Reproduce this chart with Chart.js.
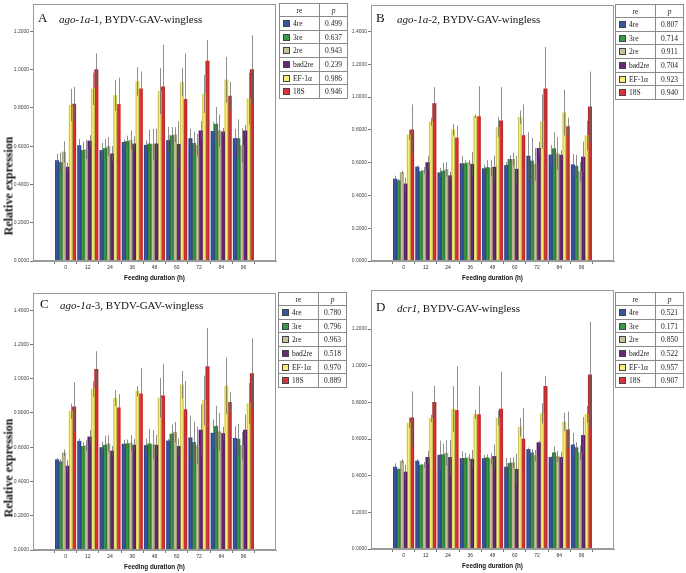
<!DOCTYPE html>
<html>
<head>
<meta charset="utf-8">
<script src="https://cdn.jsdelivr.net/npm/chart.js@4.4.1/dist/chart.umd.min.js"></script>
<style>
  html, body { margin: 0; padding: 0; background: #fff; }
  body { width: 686px; height: 573px; position: relative; overflow: hidden; }
  canvas { position: absolute; }
  .ptitle { position: absolute; font-family: 'Liberation Serif', serif; color: #111; white-space: nowrap; line-height: 14px; will-change: transform; }
  .ptitle .letter { font-size: 13px; position: absolute; left: 0; top: 0; }
  .ptitle .txt { font-size: 11px; position: absolute; top: 1px; }
  .ytitle { position: absolute; font-family: 'Liberation Serif', serif; font-weight: bold; font-size: 12px; color: #111;
            white-space: nowrap; transform: translate(-50%, -50%) rotate(-90deg); }
  table.leg { position: absolute; border-collapse: collapse; font-family: 'Liberation Serif', serif; font-size: 7.5px; color: #222; will-change: transform; }
  table.leg td { border: 1px solid #8a8a8a; padding: 0; }
  table.leg td.c1 { text-align: left; padding-left: 3px; }
  table.leg td.c2 { text-align: center; }
  table.leg td.h { text-align: center; }
  .sw { display: inline-block; width: 5px; height: 5px; border: 1px solid #444; vertical-align: -1px; margin-right: 3px; }
</style>
</head>
<body>
<script>
// ---------- data ----------
const hours = [0, 12, 24, 36, 48, 60, 72, 84, 96];
const seriesNames = ['4re', '3re', '2re', 'bad2re', 'EF-1\u03b1', '18S'];

// Panel A: ago-1a-1
const A_4re    = [0.525, 0.603, 0.578, 0.620, 0.605, 0.630, 0.640, 0.677, 0.640];
const A_3re    = [0.515, 0.578, 0.588, 0.625, 0.612, 0.655, 0.615, 0.715, 0.640];
const A_2re    = [0.570, 0.583, 0.598, 0.632, 0.610, 0.660, 0.605, 0.680, 0.603];
const A_bad2re = [0.490, 0.627, 0.560, 0.612, 0.612, 0.610, 0.680, 0.675, 0.680];
const A_EF     = [0.815, 0.900, 0.865, 0.938, 0.888, 0.935, 0.873, 0.947, 0.848];
const A_18S    = [0.820, 1.000, 0.818, 0.900, 0.910, 0.845, 1.045, 0.862, 1.000];
const A_4re_err    = [0.035, 0.035, 0.040, 0.015, 0.025, 0.070, 0.050, 0.050, 0.050];
const A_3re_err    = [0.050, 0.045, 0.050, 0.030, 0.075, 0.045, 0.060, 0.090, 0.100];
const A_2re_err    = [0.055, 0.050, 0.050, 0.050, 0.080, 0.040, 0.060, 0.085, 0.090];
const A_bad2re_err = [0.025, 0.030, 0.040, 0.040, 0.080, 0.120, 0.050, 0.020, 0.030];
const A_EF_err     = [0.085, 0.085, 0.080, 0.075, 0.120, 0.075, 0.100, 0.120, 0.135];
const A_18S_err    = [0.090, 0.085, 0.140, 0.090, 0.220, 0.240, 0.110, 0.075, 0.180];
const A_p = ['0.499', '0.637', '0.943', '0.239', '0.986', '0.946'];
const A_yTicks = [0, 0.2, 0.4, 0.6, 0.8, 1.0, 1.2];

// Panel B: ago-1a-2
const B_4re    = [0.500, 0.573, 0.538, 0.594, 0.563, 0.583, 0.640, 0.647, 0.587];
const B_3re    = [0.490, 0.545, 0.548, 0.594, 0.570, 0.620, 0.610, 0.685, 0.578];
const B_2re    = [0.540, 0.553, 0.558, 0.600, 0.567, 0.620, 0.590, 0.655, 0.545];
const B_bad2re = [0.470, 0.600, 0.520, 0.590, 0.572, 0.560, 0.687, 0.645, 0.634];
const B_EF     = [0.770, 0.850, 0.800, 0.883, 0.817, 0.877, 0.850, 0.905, 0.765];
const B_18S    = [0.800, 0.960, 0.750, 0.880, 0.855, 0.765, 1.050, 0.820, 0.940];
const B_4re_err    = [0.020, 0.010, 0.030, 0.045, 0.025, 0.020, 0.145, 0.060, 0.065];
const B_3re_err    = [0.010, 0.010, 0.050, 0.020, 0.045, 0.025, 0.140, 0.100, 0.070];
const B_2re_err    = [0.010, 0.020, 0.045, 0.015, 0.050, 0.040, 0.100, 0.100, 0.060];
const B_bad2re_err = [0.040, 0.040, 0.025, 0.075, 0.070, 0.080, 0.040, 0.030, 0.095];
const B_EF_err     = [0.030, 0.025, 0.035, 0.010, 0.060, 0.040, 0.165, 0.140, 0.090];
const B_18S_err    = [0.155, 0.100, 0.075, 0.185, 0.205, 0.190, 0.255, 0.055, 0.215];
const B_p = ['0.807', '0.714', '0.911', '0.704', '0.923', '0.940'];
const B_yTicks = [0, 0.2, 0.4, 0.6, 0.8, 1.0, 1.2, 1.4];

// Panel C: ago-1a-3
const C_4re    = [0.527, 0.635, 0.598, 0.618, 0.610, 0.637, 0.655, 0.682, 0.652];
const C_3re    = [0.515, 0.605, 0.612, 0.620, 0.620, 0.677, 0.628, 0.722, 0.647];
const C_2re    = [0.567, 0.610, 0.620, 0.625, 0.615, 0.688, 0.610, 0.690, 0.610];
const C_bad2re = [0.490, 0.660, 0.578, 0.612, 0.612, 0.605, 0.700, 0.680, 0.700];
const C_EF     = [0.810, 0.940, 0.887, 0.927, 0.888, 0.965, 0.873, 0.958, 0.855];
const C_18S    = [0.835, 1.055, 0.830, 0.912, 0.900, 0.820, 1.070, 0.862, 1.030];
const C_4re_err    = [0.010, 0.015, 0.035, 0.025, 0.040, 0.010, 0.130, 0.080, 0.070];
const C_3re_err    = [0.015, 0.025, 0.055, 0.025, 0.085, 0.055, 0.120, 0.120, 0.090];
const C_2re_err    = [0.020, 0.030, 0.050, 0.045, 0.085, 0.060, 0.110, 0.110, 0.080];
const C_bad2re_err = [0.035, 0.040, 0.030, 0.035, 0.060, 0.045, 0.150, 0.040, 0.090];
const C_EF_err     = [0.045, 0.045, 0.045, 0.030, 0.115, 0.080, 0.145, 0.165, 0.120];
const C_18S_err    = [0.145, 0.105, 0.080, 0.150, 0.185, 0.165, 0.225, 0.060, 0.205];
const C_p = ['0.780', '0.796', '0.963', '0.518', '0.970', '0.889'];
const C_yTicks = [0, 0.2, 0.4, 0.6, 0.8, 1.0, 1.2, 1.4];

// Panel D: dcr1
const D_4re    = [0.447, 0.480, 0.512, 0.494, 0.494, 0.447, 0.543, 0.500, 0.568];
const D_3re    = [0.435, 0.458, 0.515, 0.495, 0.498, 0.468, 0.525, 0.525, 0.553];
const D_2re    = [0.480, 0.460, 0.523, 0.498, 0.492, 0.472, 0.510, 0.505, 0.525];
const D_bad2re = [0.420, 0.500, 0.500, 0.490, 0.505, 0.435, 0.580, 0.500, 0.620];
const D_EF     = [0.688, 0.713, 0.763, 0.735, 0.715, 0.665, 0.740, 0.693, 0.735];
const D_18S    = [0.715, 0.800, 0.757, 0.733, 0.763, 0.600, 0.888, 0.650, 0.950];
const D_4re_err    = [0.020, 0.010, 0.080, 0.040, 0.020, 0.050, 0.010, 0.005, 0.065];
const D_3re_err    = [0.005, 0.005, 0.060, 0.030, 0.020, 0.030, 0.020, 0.035, 0.030];
const D_2re_err    = [0.010, 0.015, 0.070, 0.020, 0.030, 0.030, 0.030, 0.030, 0.040];
const D_bad2re_err = [0.040, 0.035, 0.095, 0.050, 0.065, 0.085, 0.010, 0.030, 0.100];
const D_EF_err     = [0.030, 0.020, 0.125, 0.025, 0.040, 0.050, 0.055, 0.050, 0.045];
const D_18S_err    = [0.145, 0.090, 0.240, 0.155, 0.205, 0.170, 0.055, 0.100, 0.290];
const D_p = ['0.521', '0.171', '0.850', '0.522', '0.957', '0.907'];
const D_yTicks = [0, 0.2, 0.4, 0.6, 0.8, 1.0, 1.2];

// ---------- styling ----------
const fills   = ['#3A55A2', '#379A45', '#C6C199', '#672876', '#F7EE73', '#DD3336'];

const panels = [
  { letter: 'A', gene: 'ago-1a', suffix: '-1', vals: [A_4re, A_3re, A_2re, A_bad2re, A_EF, A_18S],
    errs: [A_4re_err, A_3re_err, A_2re_err, A_bad2re_err, A_EF_err, A_18S_err], p: A_p, yTicks: A_yTicks, yMax: 1.343,
    L: 33, R: 276, T: 2, B: 261, ytitle: { x: 8.5, y: 186 }, title: { x: 38, y: 11, tx: 21 },
    table: { x: 279, y: 3 } },
  { letter: 'B', gene: 'ago-1a', suffix: '-2', vals: [B_4re, B_3re, B_2re, B_bad2re, B_EF, B_18S],
    errs: [B_4re_err, B_3re_err, B_2re_err, B_bad2re_err, B_EF_err, B_18S_err], p: B_p, yTicks: B_yTicks, yMax: 1.561,
    L: 371, R: 614, T: 3, B: 261, ytitle: null, title: { x: 376, y: 11, tx: 21 },
    table: { x: 615, y: 4 } },
  { letter: 'C', gene: 'ago-1a', suffix: '-3', vals: [C_4re, C_3re, C_2re, C_bad2re, C_EF, C_18S],
    errs: [C_4re_err, C_3re_err, C_2re_err, C_bad2re_err, C_EF_err, C_18S_err], p: C_p, yTicks: C_yTicks, yMax: 1.50,
    L: 33, R: 276, T: 291, B: 550, ytitle: { x: 8.5, y: 468 }, title: { x: 40, y: 297, tx: 20 },
    table: { x: 278, y: 292 } },
  { letter: 'D', gene: 'dcr1', suffix: '', vals: [D_4re, D_3re, D_2re, D_bad2re, D_EF, D_18S],
    errs: [D_4re_err, D_3re_err, D_2re_err, D_bad2re_err, D_EF_err, D_18S_err], p: D_p, yTicks: D_yTicks, yMax: 1.413,
    L: 371, R: 614, T: 288, B: 549, ytitle: null, title: { x: 376, y: 300, tx: 21 },
    table: { x: 615, y: 292 } }
];

// darker bar edges (SPSS-like shading) + error bars, drawn over the library's bar elements
const errorBarPlugin = {
  id: 'errorBars',
  afterDatasetsDraw(chart) {
    const ctx = chart.ctx, ys = chart.scales.y;
    ctx.save();
    // edge shading
    ctx.fillStyle = 'rgba(0,0,0,0.2)';
    chart.data.datasets.forEach((ds, i) => {
      chart.getDatasetMeta(i).data.forEach(bar => {
        const l = bar.x - bar.width / 2, r = bar.x + bar.width / 2;
        const tp = Math.min(bar.y, bar.base), hgt = Math.abs(bar.base - bar.y);
        ctx.fillRect(l, tp, 0.9, hgt);
        ctx.fillRect(r - 0.9, tp, 0.9, hgt);
      });
    });
    ctx.strokeStyle = 'rgba(95,95,95,0.7)';
    ctx.lineWidth = 1;
    chart.data.datasets.forEach((ds, i) => {
      const meta = chart.getDatasetMeta(i);
      meta.data.forEach((bar, j) => {
        const v = ds.data[j].y, e = ds.errors[j];
        const x = Math.round(bar.x) + 0.5;
        ctx.beginPath();
        ctx.moveTo(x, ys.getPixelForValue(v - e));
        ctx.lineTo(x, ys.getPixelForValue(v + e));
        ctx.stroke();
      });
    });
    ctx.restore();
  }
};

const framePlugin = {
  id: 'frame',
  afterDatasetsDraw(chart) {
    const a = chart.chartArea, ctx = chart.ctx;
    ctx.save();
    ctx.strokeStyle = '#9a9a9a';
    ctx.lineWidth = 1;
    ctx.strokeRect(a.left + 0.5, a.top + 0.5, a.right - a.left - 1, a.bottom - a.top - 1);
    ctx.restore();
  }
};

const YW = 31, XH = 22;

panels.forEach(pn => {
  const left = pn.L - YW, top = pn.T - 2;
  const w = pn.R - left + 1, h = (pn.B - pn.T) + 2 + XH;
  const cv = document.createElement('canvas');
  cv.width = w; cv.height = h;
  cv.style.left = left + 'px'; cv.style.top = top + 'px';
  cv.style.width = w + 'px'; cv.style.height = h + 'px';
  document.body.appendChild(cv);

  const datasets = seriesNames.map((name, i) => ({
    label: name,
    data: hours.map((hh, j) => ({ x: hh, y: pn.vals[i][j] })),
    errors: pn.errs[i],
    backgroundColor: fills[i],
    borderWidth: 0,
    inflateAmount: 0.35,
    barPercentage: 1.0,
    categoryPercentage: 0.92
  }));

  new Chart(cv, {
    type: 'bar',
    data: { datasets },
    options: {
      responsive: false,
      animation: false,
      devicePixelRatio: 1,
      layout: { padding: { top: 2, right: 1, left: 0, bottom: 0 } },
      plugins: { legend: { display: false }, tooltip: { enabled: false }, title: { display: false } },
      scales: {
        x: {
          type: 'linear',
          min: -10.3, max: 106.3,
          afterBuildTicks: s => { s.ticks = hours.map(v => ({ value: v })); },
          afterFit: s => { s.height = XH; },
          grid: { drawOnChartArea: false, drawTicks: true, tickLength: 3, color: '#777' },
          border: { display: true, color: '#9a9a9a' },
          ticks: { font: { family: 'Liberation Sans', size: 5 }, color: '#333', padding: 1, maxRotation: 0, autoSkip: false },
          title: { display: true, text: 'Feeding duration (h)', font: { family: 'Liberation Sans', size: 6.3, weight: 'bold' },
                   color: '#111', padding: { top: 0, bottom: 1 } }
        },
        y: {
          min: 0, max: pn.yMax,
          afterBuildTicks: s => { s.ticks = pn.yTicks.map(v => ({ value: v })); },
          afterFit: s => { s.width = YW; },
          grid: { drawOnChartArea: false, drawTicks: true, tickLength: 3, color: '#777' },
          border: { display: true, color: '#8a8a8a' },
          ticks: { font: { family: 'Liberation Sans', size: 5 }, color: '#444', padding: 1,
                   callback: v => Number(v).toFixed(4) }
        }
      }
    },
    plugins: [errorBarPlugin, framePlugin]
  });

  // panel title
  const t = document.createElement('div');
  t.className = 'ptitle';
  t.style.left = pn.title.x + 'px'; t.style.top = pn.title.y + 'px';
  t.innerHTML = '<span class="letter"></span><span class="txt" style="left:' + pn.title.tx + 'px"><i></i><span></span>, BYDV-GAV-wingless</span>';
  t.querySelector('.letter').textContent = pn.letter;
  t.querySelector('.txt i').textContent = pn.gene;
  t.querySelector('.txt span').textContent = pn.suffix;
  document.body.appendChild(t);

  // y title
  if (pn.ytitle) {
    const yt = document.createElement('div');
    yt.className = 'ytitle';
    yt.textContent = 'Relative expression';
    yt.style.left = pn.ytitle.x + 'px'; yt.style.top = pn.ytitle.y + 'px';
    document.body.appendChild(yt);
  }

  // legend table
  const tb = document.createElement('table');
  tb.className = 'leg';
  tb.style.left = pn.table.x + 'px'; tb.style.top = pn.table.y + 'px';
  let html = '<tr style="height:13px"><td class="h" style="width:39px">re</td><td class="h" style="width:27px"><i>p</i></td></tr>';
  seriesNames.forEach((n, i) => {
    html += '<tr style="height:13.7px"><td class="c1"><span class="sw" style="background:' + fills[i] + '"></span>' + n +
            '</td><td class="c2">' + pn.p[i] + '</td></tr>';
  });
  tb.innerHTML = html;
  document.body.appendChild(tb);
});
</script>
</body>
</html>
